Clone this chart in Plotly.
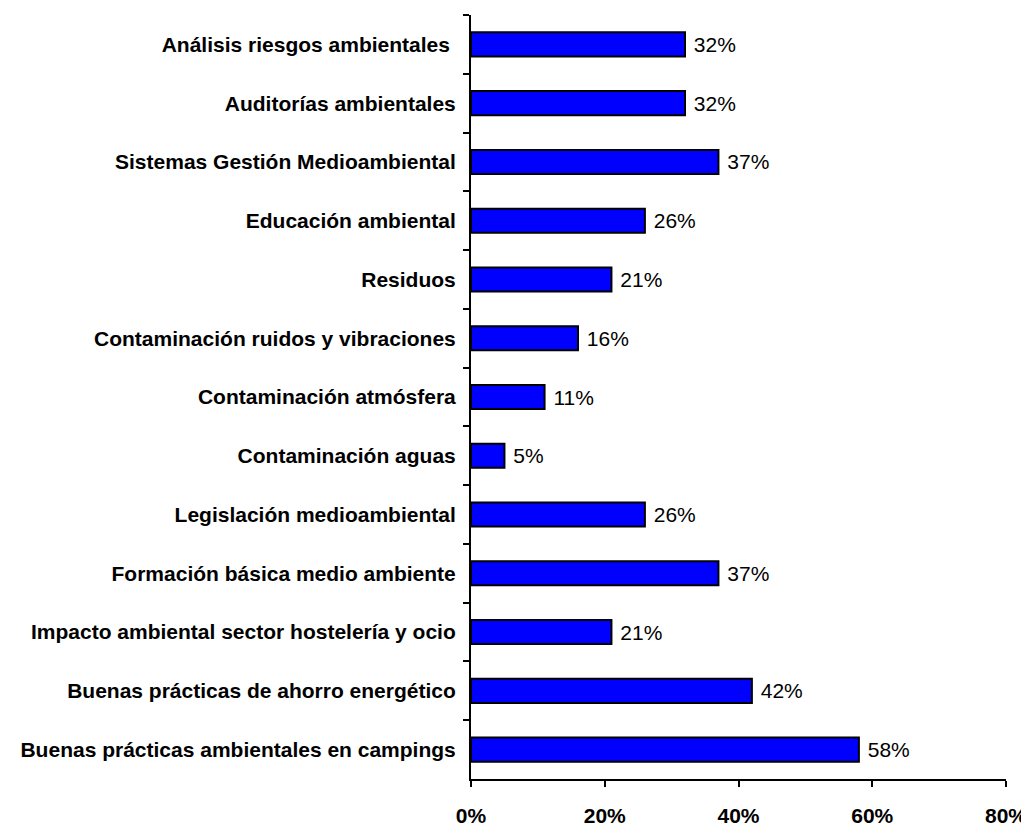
import plotly.graph_objects as go

categories = [
    "Análisis riesgos ambientales\u00a0",
    "Auditorías ambientales",
    "Sistemas Gestión Medioambiental",
    "Educación ambiental",
    "Residuos",
    "Contaminación ruidos y vibraciones",
    "Contaminación atmósfera",
    "Contaminación aguas",
    "Legislación medioambiental",
    "Formación básica medio ambiente",
    "Impacto ambiental sector hostelería y ocio",
    "Buenas prácticas de ahorro energético",
    "Buenas prácticas ambientales en campings",
]
values = [32, 32, 37, 26, 21, 16, 11, 5, 26, 37, 21, 42, 58]
x_ticks = [0, 20, 40, 60, 80]
x_tick_labels = ["0%", "20%", "40%", "60%", "80%"]

font_family = "Arial, Liberation Sans, sans-serif"

fig = go.Figure(go.Bar(
    y=categories,
    x=values,
    orientation="h",
    marker=dict(color="#0000FF", line=dict(color="#000000", width=2)),
    text=[f"\u00a0{v}%" for v in values],
    textposition="outside",
    textfont=dict(family=font_family, size=21, color="#000000"),
    cliponaxis=False,
))

# page body has an 8px default margin, so the figure is sized to fit
fig.update_layout(
    width=1021, height=817,
    margin=dict(l=463, r=23, t=7, b=46, autoexpand=False),
    paper_bgcolor="white", plot_bgcolor="white",
    bargap=0.59,
    showlegend=False,
    font=dict(family=font_family, size=21, color="#000000"),
)
fig.update_xaxes(
    range=[0, 80], tickvals=x_ticks, ticktext=x_tick_labels,
    showgrid=False, zeroline=False, automargin=False,
    showline=True, linecolor="black", linewidth=2,
    ticks="outside", ticklen=6, tickwidth=2, tickcolor="black",
    tickfont=dict(family=font_family, size=21, color="black", weight="bold"),
    ticklabelstandoff=11,
)
fig.update_yaxes(
    autorange="reversed", automargin=False,
    showgrid=False, zeroline=False,
    showline=True, linecolor="black", linewidth=2,
    ticks="outside", tickson="boundaries", ticklen=6, tickwidth=2, tickcolor="black",
    tickfont=dict(family=font_family, size=21, color="black", weight="bold"),
    ticklabelstandoff=9,
)

fig.write_html("out.html")
